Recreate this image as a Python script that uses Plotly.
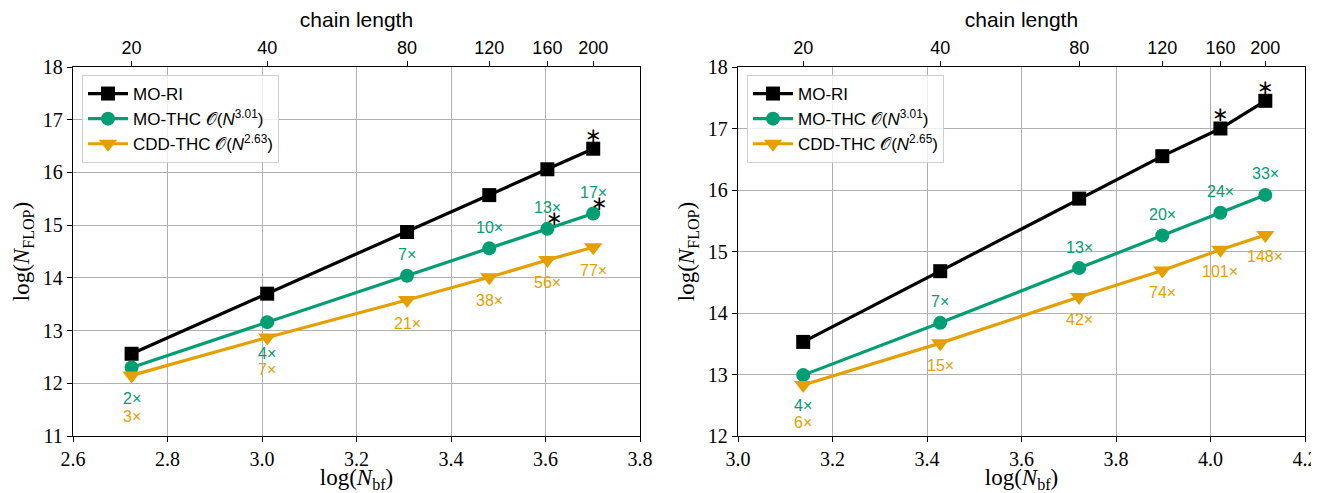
import plotly.graph_objects as go

# ---------------- data ----------------
chain_length = [20, 40, 80, 120, 160, 200]

logNbf_left = [2.724, 3.011, 3.307, 3.481, 3.604, 3.701]
mori_left = [12.56, 13.70, 14.87, 15.57, 16.06, 16.45]
mothc_left = [12.30, 13.16, 14.04, 14.56, 14.93, 15.22]
cdd_left = [12.15, 12.87, 13.58, 14.01, 14.34, 14.58]
speed_thc_left = ["2×", "4×", "7×", "10×", "13×", "17×"]
speed_cdd_left = ["3×", "7×", "21×", "38×", "56×", "77×"]

logNbf_right = [3.138, 3.428, 3.722, 3.898, 4.021, 4.116]
mori_right = [13.53, 14.68, 15.86, 16.55, 17.00, 17.45]
mothc_right = [12.99, 13.84, 14.73, 15.26, 15.63, 15.92]
cdd_right = [12.83, 13.51, 14.26, 14.69, 15.03, 15.27]
speed_thc_right = ["4×", "7×", "13×", "20×", "24×", "33×"]
speed_cdd_right = ["6×", "15×", "42×", "74×", "101×", "148×"]

legend_left = ["MO-RI", "MO-THC 𝒪(<i>N</i><sup>3.01</sup>)", "CDD-THC 𝒪(<i>N</i><sup>2.63</sup>)"]
legend_right = ["MO-RI", "MO-THC 𝒪(<i>N</i><sup>3.01</sup>)", "CDD-THC 𝒪(<i>N</i><sup>2.65</sup>)"]

# ---------------- style ----------------
BLACK = "#000000"
GREEN = "#029E73"
ORANGE = "#E69F00"
SANS = "Liberation Sans, DejaVu Sans, sans-serif"
SERIF = "Liberation Serif, DejaVu Serif, serif"

# page body adds an 8px margin; work in page pixels and subtract it
OFF = 8
W, H = 1319 - OFF, 493 - OFF

fig = go.Figure()

def add_panel(xv, series, names, xa, ya, legend):
    markers = ["square", "circle", "triangle-down"]
    colors = [BLACK, GREEN, ORANGE]
    sizes = [14, 14, 16]
    for yv, nm, mk, c, s in zip(series, names, markers, colors, sizes):
        fig.add_trace(go.Scatter(
            x=xv, y=yv, name=nm, mode="lines+markers",
            line=dict(color=c, width=3.2),
            marker=dict(symbol=mk, size=s, color=c, line=dict(width=0)),
            xaxis=xa, yaxis=ya, legend=legend))

add_panel(logNbf_left, [mori_left, mothc_left, cdd_left], legend_left, "x", "y", "legend")
add_panel(logNbf_right, [mori_right, mothc_right, cdd_right], legend_right, "x2", "y2", "legend2")

# invisible traces to attach top axes
fig.add_trace(go.Scatter(x=logNbf_left, y=mori_left, mode="markers", marker=dict(opacity=0),
                         xaxis="x3", yaxis="y", showlegend=False, hoverinfo="skip"))
fig.add_trace(go.Scatter(x=logNbf_right, y=mori_right, mode="markers", marker=dict(opacity=0),
                         xaxis="x4", yaxis="y2", showlegend=False, hoverinfo="skip"))

ann = []

def speed_labels(xv, yv, labels, shifts, color, xr, yr):
    for x, y, t, s in zip(xv, yv, labels, shifts):
        ann.append(dict(x=x, y=y, xref=xr, yref=yr, text=t, showarrow=False,
                        yshift=s, font=dict(family=SANS, size=16, color=color)))

speed_labels(logNbf_left, mothc_left, speed_thc_left, [-31, -31, 21, 21, 21, 21], GREEN, "x", "y")
speed_labels(logNbf_left, cdd_left, speed_cdd_left, [-41, -32, -23, -23, -23, -23], ORANGE, "x", "y")
speed_labels(logNbf_right, mothc_right, speed_thc_right, [-30, 21, 21, 21, 21, 21], GREEN, "x2", "y2")
speed_labels(logNbf_right, cdd_right, speed_cdd_right, [-38, -22, -22, -22, -22, -22], ORANGE, "x2", "y2")

def star(x, y, xr, yr, dx, dy):
    ann.append(dict(x=x, y=y, xref=xr, yref=yr, text="∗", showarrow=False,
                    xshift=dx, yshift=dy, font=dict(family="DejaVu Sans", size=20, color=BLACK)))

star(logNbf_left[5], mori_left[5], "x", "y", 0, 14)
star(logNbf_left[4], mothc_left[4], "x", "y", 7, 11)
star(logNbf_left[5], mothc_left[5], "x", "y", 6, 11)
star(logNbf_right[4], mori_right[4], "x2", "y2", 0, 15)
star(logNbf_right[5], mori_right[5], "x2", "y2", 0, 14)

dom_l = [(73 - OFF) / W, (640 - OFF) / W]
dom_r = [(738 - OFF) / W, (1305 - OFF) / W]
dom_y = [1 - (436 - OFF) / H, 1 - (67 - OFF) / H]

common_x = dict(showline=True, linecolor="black", linewidth=1.3, ticks="outside", ticklen=5,
                tickcolor="black", tickwidth=1.2, showgrid=True, gridcolor="#b0b0b0", gridwidth=1,
                zeroline=False, dtick=0.2, tickformat=".1f", automargin=False,
                tickfont=dict(family=SERIF, size=20, color="black"),
                title=dict(text="log(<i>N</i><sub>bf</sub>)", font=dict(family=SERIF, size=23, color="black"),
                           standoff=2))
common_y = dict(showline=True, linecolor="black", linewidth=1.3, mirror=True, ticks="outside", ticklen=5,
                tickcolor="black", tickwidth=1.2, showgrid=True, gridcolor="#b0b0b0", gridwidth=1,
                zeroline=False, dtick=1, automargin=False,
                tickfont=dict(family=SERIF, size=20, color="black"),
                title=dict(text="log(<i>N</i><sub>FLOP</sub>)", font=dict(family=SERIF, size=23, color="black"),
                           standoff=6))
common_top = dict(showline=True, linecolor="black", linewidth=1.3, ticks="outside", ticklen=5,
                  tickcolor="black", tickwidth=1.2, showgrid=False, zeroline=False, side="top",
                  tickmode="array", automargin=False,
                  tickfont=dict(family=SANS, size=18, color="black"),
                  title=dict(text="chain length", font=dict(family=SANS, size=21, color="black"), standoff=6))

legend_common = dict(bgcolor="rgba(255,255,255,0.8)", bordercolor="#d0d0d0", borderwidth=1,
                     font=dict(family=SANS, size=17, color="black"), xanchor="left", yanchor="top",
                     tracegroupgap=0, itemwidth=40)

fig.update_layout(
    width=W, height=H,
    margin=dict(l=0, r=0, t=0, b=0),
    paper_bgcolor="white", plot_bgcolor="white",
    xaxis=dict(domain=dom_l, anchor="y", range=[2.6, 3.8], **common_x),
    yaxis=dict(domain=dom_y, anchor="x", range=[11, 18], **common_y),
    xaxis2=dict(domain=dom_r, anchor="y2", range=[3.0, 4.2], **common_x),
    yaxis2=dict(domain=dom_y, anchor="x2", range=[12, 18], **common_y),
    xaxis3=dict(overlaying="x", anchor="y", range=[2.6, 3.8],
                tickvals=logNbf_left, ticktext=[str(c) for c in chain_length], **common_top),
    xaxis4=dict(overlaying="x2", anchor="y2", range=[3.0, 4.2],
                tickvals=logNbf_right, ticktext=[str(c) for c in chain_length], **common_top),
    legend=dict(x=(82 - OFF) / W, y=1 - (75 - OFF) / H, xref="paper", yref="paper", **legend_common),
    legend2=dict(x=(747 - OFF) / W, y=1 - (75 - OFF) / H, xref="paper", yref="paper", **legend_common),
    annotations=ann,
    showlegend=True,
)

fig.write_html("out.html")
